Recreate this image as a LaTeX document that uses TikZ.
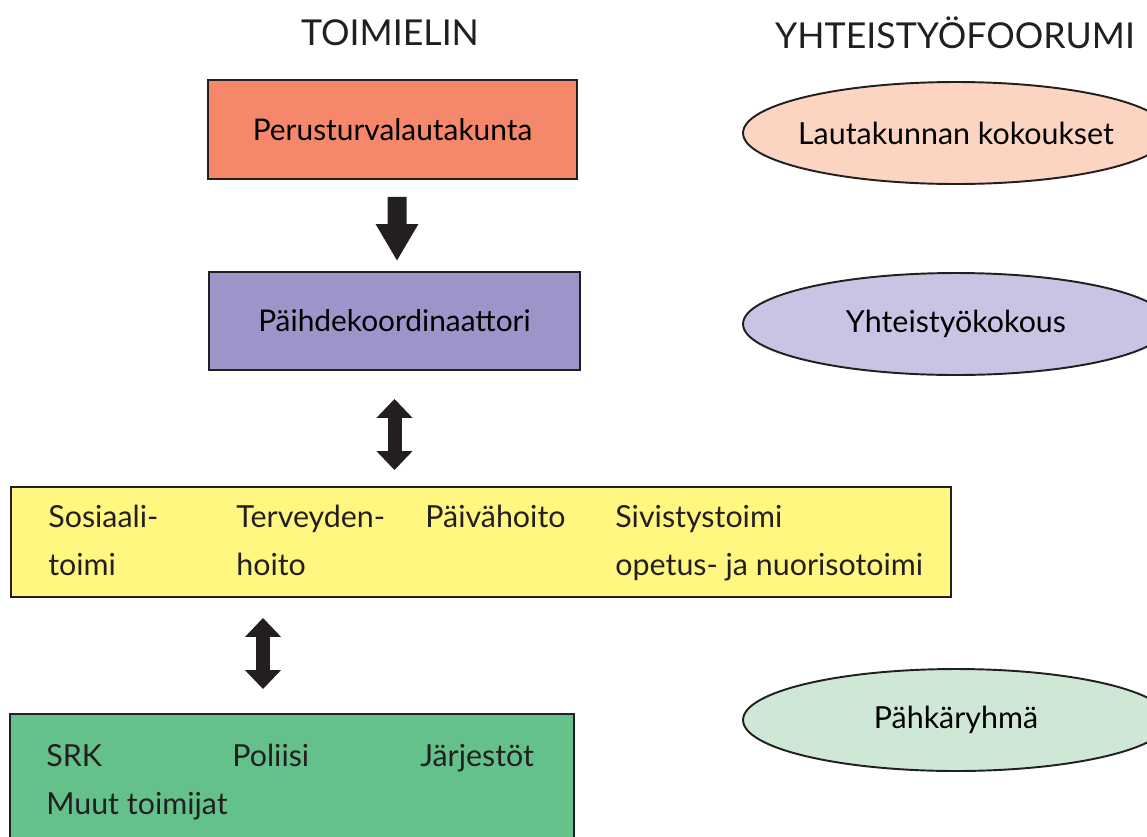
\documentclass[tikz,border=0pt]{standalone}
\usepackage{fontspec}
\setmainfont{Lato}
\usetikzlibrary{arrows.meta,shapes.geometric}
\definecolor{ink}{RGB}{35,31,32}
\definecolor{lautafill}{RGB}{245,135,106}
\definecolor{koordfill}{RGB}{157,148,201}
\definecolor{sektorfill}{RGB}{255,247,128}
\definecolor{muutfill}{RGB}{101,193,140}
\definecolor{forumA}{RGB}{252,213,194}
\definecolor{forumB}{RGB}{200,196,227}
\definecolor{forumC}{RGB}{207,232,213}
\begin{document}
\begin{tikzpicture}[x=0.02cm,y=-0.02cm,line join=miter]
	\tikzset{box/.style={draw=ink,line width=1.1pt,inner sep=0pt,font=\fontsize{17}{20}\selectfont},
		forum/.style={ellipse,draw=ink,line width=1.1pt,inner sep=0pt,minimum width=8.52cm,minimum height=2.04cm,font=\fontsize{17.3}{20}\selectfont},
		head/.style={text=ink,inner sep=0pt,font=\fontsize{20.3}{24}\selectfont},
		item/.style={text=ink,anchor=base west,inner sep=0pt,font=\fontsize{17.3}{20}\selectfont},
		downarrow/.style={draw=ink,line width=0.38cm,-{Triangle[width=0.8cm,length=0.74cm]}},
		updown/.style={draw=ink,line width=0.28cm,{Triangle[width=0.7cm,length=0.38cm]}-{Triangle[width=0.7cm,length=0.38cm]}}}
	\path[use as bounding box,clip] (0,0) rectangle (1147,836);
	\fill[white] (0,0) rectangle (1147,836);
	% otsikot
	\node[head] (toimielin) at (390,33) {TOIMIELIN};
	\node[head] (yhteis) at (955,33) {YHTEISTYÖFOORUMI};
	% toimielimet
	\node[box,fill=lautafill,minimum width=7.38cm,minimum height=1.98cm] (lauta) at (392.5,129.5) {Perusturvalautakunta};
	\node[box,fill=koordfill,minimum width=7.42cm,minimum height=1.96cm] (koord) at (394.5,321) {Päihdekoordinaattori};
	\node[box,fill=sektorfill,minimum width=18.8cm,minimum height=2.2cm] (sektorit) at (481,542) {};
	\node[box,fill=muutfill,minimum width=11.28cm,minimum height=3.32cm] (muut) at (292,797) {};
	\node[item] (sos) at (48,527) {Sosiaali-};
	\node[item] (sos2) at (48,575) {toimi};
	\node[item] (terv) at (236,527) {Terveyden-};
	\node[item] (terv2) at (236,575) {hoito};
	\node[item] (paiva) at (425,527) {Päivähoito};
	\node[item] (sivis) at (615,527) {Sivistystoimi};
	\node[item] (sivis2) at (615,575) {opetus- ja nuorisotoimi};
	\node[item] (srk) at (46,766) {SRK};
	\node[item] (poliisi) at (232,766) {Poliisi};
	\node[item] (jarj) at (420,766) {Järjestöt};
	\node[item] (muita) at (46,814) {Muut toimijat};
	% foorumit
	\node[forum,fill=forumA] (kokoukset) at (956,133) {\makebox[0pt]{Lautakunnan kokoukset}};
	\node[forum,fill=forumB] (yhtkok) at (956,324) {\makebox[0pt]{Yhteistyökokous}};
	\node[forum,fill=forumC] (pahka) at (956,720) {\makebox[0pt]{Pähkäryhmä}};
	% nuolet
	\draw[downarrow,shorten <=0.34cm,shorten >=0.2cm] ([xshift=0.09cm]lauta.south) -- ([xshift=0.05cm]koord.north);
	\draw[updown,shorten <=0.56cm,shorten >=0.32cm] (koord.south) -- (koord.south |- sektorit.north);
	\draw[updown,shorten <=0.4cm,shorten >=0.48cm] ([xshift=-0.58cm]muut.north |- sektorit.south) -- ([xshift=-0.58cm]muut.north);
\end{tikzpicture}
\end{document}
